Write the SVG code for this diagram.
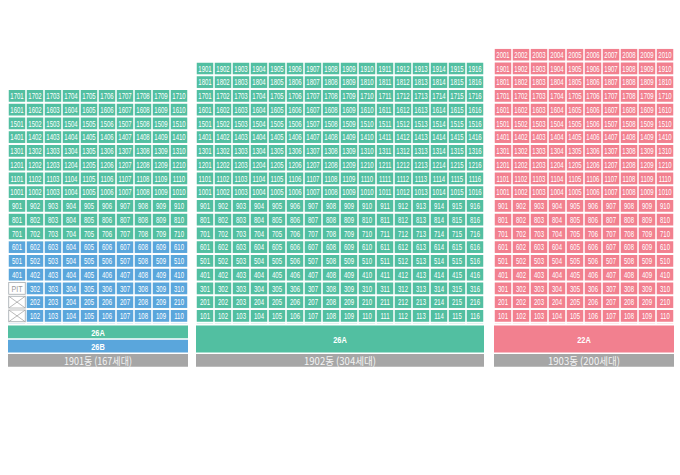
<svg xmlns="http://www.w3.org/2000/svg" width="680" height="475" viewBox="0 0 680 475">
<style>
.n{font-family:"Liberation Sans",Arial,sans-serif;font-size:9px;fill:#fff;text-anchor:middle}
.lg{font-family:"Liberation Sans",Arial,sans-serif;font-weight:bold;font-size:8.5px;fill:#fff;text-anchor:middle}
.dong{font-family:"Noto Sans CJK KR","Liberation Sans",sans-serif;font-size:10.5px;fill:#f4f4f4;text-anchor:middle}
.pit{font-family:"Liberation Sans",Arial,sans-serif;font-size:8.5px;fill:#9a9a9a;text-anchor:middle}
.blank{fill:#fff;stroke:#b0b0b0;stroke-width:0.8}
.xl{stroke:#a8a8a8;stroke-width:0.8}
</style>
<defs>
<pattern id="pG1" patternUnits="userSpaceOnUse" x="8" y="310" width="18" height="13.75"><rect x="0.75" y="0" width="16.5" height="11.75" fill="#52bfa1"/></pattern>
<pattern id="pB1" patternUnits="userSpaceOnUse" x="8" y="310" width="18" height="13.75"><rect x="0.75" y="0" width="16.5" height="11.75" fill="#5aa6dc"/></pattern>
<pattern id="pG2" patternUnits="userSpaceOnUse" x="196" y="310" width="18" height="13.75"><rect x="0.75" y="0" width="16.5" height="11.75" fill="#52bfa1"/></pattern>
<pattern id="pP3" patternUnits="userSpaceOnUse" x="494" y="310" width="18" height="13.75"><rect x="0.75" y="0" width="16.5" height="11.75" fill="#f2808f"/></pattern>
</defs>
<rect width="680" height="475" fill="#fff"/>

<g id="b1901">
<rect x="8" y="90" width="180" height="151.25" fill="url(#pG1)"/>
<rect x="8" y="241.25" width="180" height="82.5" fill="url(#pB1)"/>
<rect class="blank" x="8.75" y="282.5" width="16.5" height="11.75"/>
<text class="pit" x="17" y="291.6" textLength="11" lengthAdjust="spacingAndGlyphs">PIT</text>
<rect class="blank" x="8.75" y="296.25" width="16.5" height="11.75"/>
<line class="xl" x1="8.75" y1="296.25" x2="25.25" y2="308"/><line class="xl" x1="8.75" y1="308" x2="25.25" y2="296.25"/>
<rect class="blank" x="8.75" y="310" width="16.5" height="11.75"/>
<line class="xl" x1="8.75" y1="310" x2="25.25" y2="321.75"/><line class="xl" x1="8.75" y1="321.75" x2="25.25" y2="310"/>
<g class="n" transform="translate(17 0) scale(0.666667 1)">
<text y="99.2"><tspan x="0">1701</tspan><tspan x="27">1702</tspan><tspan x="54">1703</tspan><tspan x="81">1704</tspan><tspan x="108">1705</tspan><tspan x="135">1706</tspan><tspan x="162">1707</tspan><tspan x="189">1708</tspan><tspan x="216">1709</tspan><tspan x="243">1710</tspan></text>
<text y="112.95"><tspan x="0">1601</tspan><tspan x="27">1602</tspan><tspan x="54">1603</tspan><tspan x="81">1604</tspan><tspan x="108">1605</tspan><tspan x="135">1606</tspan><tspan x="162">1607</tspan><tspan x="189">1608</tspan><tspan x="216">1609</tspan><tspan x="243">1610</tspan></text>
<text y="126.7"><tspan x="0">1501</tspan><tspan x="27">1502</tspan><tspan x="54">1503</tspan><tspan x="81">1504</tspan><tspan x="108">1505</tspan><tspan x="135">1506</tspan><tspan x="162">1507</tspan><tspan x="189">1508</tspan><tspan x="216">1509</tspan><tspan x="243">1510</tspan></text>
<text y="140.45"><tspan x="0">1401</tspan><tspan x="27">1402</tspan><tspan x="54">1403</tspan><tspan x="81">1404</tspan><tspan x="108">1405</tspan><tspan x="135">1406</tspan><tspan x="162">1407</tspan><tspan x="189">1408</tspan><tspan x="216">1409</tspan><tspan x="243">1410</tspan></text>
<text y="154.2"><tspan x="0">1301</tspan><tspan x="27">1302</tspan><tspan x="54">1303</tspan><tspan x="81">1304</tspan><tspan x="108">1305</tspan><tspan x="135">1306</tspan><tspan x="162">1307</tspan><tspan x="189">1308</tspan><tspan x="216">1309</tspan><tspan x="243">1310</tspan></text>
<text y="167.95"><tspan x="0">1201</tspan><tspan x="27">1202</tspan><tspan x="54">1203</tspan><tspan x="81">1204</tspan><tspan x="108">1205</tspan><tspan x="135">1206</tspan><tspan x="162">1207</tspan><tspan x="189">1208</tspan><tspan x="216">1209</tspan><tspan x="243">1210</tspan></text>
<text y="181.7"><tspan x="0">1101</tspan><tspan x="27">1102</tspan><tspan x="54">1103</tspan><tspan x="81">1104</tspan><tspan x="108">1105</tspan><tspan x="135">1106</tspan><tspan x="162">1107</tspan><tspan x="189">1108</tspan><tspan x="216">1109</tspan><tspan x="243">1110</tspan></text>
<text y="195.45"><tspan x="0">1001</tspan><tspan x="27">1002</tspan><tspan x="54">1003</tspan><tspan x="81">1004</tspan><tspan x="108">1005</tspan><tspan x="135">1006</tspan><tspan x="162">1007</tspan><tspan x="189">1008</tspan><tspan x="216">1009</tspan><tspan x="243">1010</tspan></text>
<text y="209.2"><tspan x="0">901</tspan><tspan x="27">902</tspan><tspan x="54">903</tspan><tspan x="81">904</tspan><tspan x="108">905</tspan><tspan x="135">906</tspan><tspan x="162">907</tspan><tspan x="189">908</tspan><tspan x="216">909</tspan><tspan x="243">910</tspan></text>
<text y="222.95"><tspan x="0">801</tspan><tspan x="27">802</tspan><tspan x="54">803</tspan><tspan x="81">804</tspan><tspan x="108">805</tspan><tspan x="135">806</tspan><tspan x="162">807</tspan><tspan x="189">808</tspan><tspan x="216">809</tspan><tspan x="243">810</tspan></text>
<text y="236.7"><tspan x="0">701</tspan><tspan x="27">702</tspan><tspan x="54">703</tspan><tspan x="81">704</tspan><tspan x="108">705</tspan><tspan x="135">706</tspan><tspan x="162">707</tspan><tspan x="189">708</tspan><tspan x="216">709</tspan><tspan x="243">710</tspan></text>
<text y="250.45"><tspan x="0">601</tspan><tspan x="27">602</tspan><tspan x="54">603</tspan><tspan x="81">604</tspan><tspan x="108">605</tspan><tspan x="135">606</tspan><tspan x="162">607</tspan><tspan x="189">608</tspan><tspan x="216">609</tspan><tspan x="243">610</tspan></text>
<text y="264.2"><tspan x="0">501</tspan><tspan x="27">502</tspan><tspan x="54">503</tspan><tspan x="81">504</tspan><tspan x="108">505</tspan><tspan x="135">506</tspan><tspan x="162">507</tspan><tspan x="189">508</tspan><tspan x="216">509</tspan><tspan x="243">510</tspan></text>
<text y="277.95"><tspan x="0">401</tspan><tspan x="27">402</tspan><tspan x="54">403</tspan><tspan x="81">404</tspan><tspan x="108">405</tspan><tspan x="135">406</tspan><tspan x="162">407</tspan><tspan x="189">408</tspan><tspan x="216">409</tspan><tspan x="243">410</tspan></text>
<text y="291.7"><tspan x="27">302</tspan><tspan x="54">303</tspan><tspan x="81">304</tspan><tspan x="108">305</tspan><tspan x="135">306</tspan><tspan x="162">307</tspan><tspan x="189">308</tspan><tspan x="216">309</tspan><tspan x="243">310</tspan></text>
<text y="305.45"><tspan x="27">202</tspan><tspan x="54">203</tspan><tspan x="81">204</tspan><tspan x="108">205</tspan><tspan x="135">206</tspan><tspan x="162">207</tspan><tspan x="189">208</tspan><tspan x="216">209</tspan><tspan x="243">210</tspan></text>
<text y="319.2"><tspan x="27">102</tspan><tspan x="54">103</tspan><tspan x="81">104</tspan><tspan x="108">105</tspan><tspan x="135">106</tspan><tspan x="162">107</tspan><tspan x="189">108</tspan><tspan x="216">109</tspan><tspan x="243">110</tspan></text>
</g>
</g>

<g id="legend1901">
<rect x="8" y="325.5" width="180" height="12.75" fill="#52bfa1"/>
<text class="lg" x="98" y="335.8" textLength="13.5" lengthAdjust="spacingAndGlyphs">26A</text>
<rect x="8" y="339.75" width="180" height="12.75" fill="#5aa6dc"/>
<text class="lg" x="98" y="349.6" textLength="13.5" lengthAdjust="spacingAndGlyphs">26B</text>
<rect x="8" y="354" width="180" height="12.75" fill="#a6a6a6"/>
<text class="dong" x="98" y="364.8" textLength="68" lengthAdjust="spacingAndGlyphs">1901동 (167세대)</text>
</g>

<g id="b1902">
<rect x="196" y="62.5" width="288" height="261.25" fill="url(#pG2)"/>
<g class="n" transform="translate(205 0) scale(0.666667 1)">
<text y="71.7"><tspan x="0">1901</tspan><tspan x="27">1902</tspan><tspan x="54">1903</tspan><tspan x="81">1904</tspan><tspan x="108">1905</tspan><tspan x="135">1906</tspan><tspan x="162">1907</tspan><tspan x="189">1908</tspan><tspan x="216">1909</tspan><tspan x="243">1910</tspan><tspan x="270">1911</tspan><tspan x="297">1912</tspan><tspan x="324">1913</tspan><tspan x="351">1914</tspan><tspan x="378">1915</tspan><tspan x="405">1916</tspan></text>
<text y="85.45"><tspan x="0">1801</tspan><tspan x="27">1802</tspan><tspan x="54">1803</tspan><tspan x="81">1804</tspan><tspan x="108">1805</tspan><tspan x="135">1806</tspan><tspan x="162">1807</tspan><tspan x="189">1808</tspan><tspan x="216">1809</tspan><tspan x="243">1810</tspan><tspan x="270">1811</tspan><tspan x="297">1812</tspan><tspan x="324">1813</tspan><tspan x="351">1814</tspan><tspan x="378">1815</tspan><tspan x="405">1816</tspan></text>
<text y="99.2"><tspan x="0">1701</tspan><tspan x="27">1702</tspan><tspan x="54">1703</tspan><tspan x="81">1704</tspan><tspan x="108">1705</tspan><tspan x="135">1706</tspan><tspan x="162">1707</tspan><tspan x="189">1708</tspan><tspan x="216">1709</tspan><tspan x="243">1710</tspan><tspan x="270">1711</tspan><tspan x="297">1712</tspan><tspan x="324">1713</tspan><tspan x="351">1714</tspan><tspan x="378">1715</tspan><tspan x="405">1716</tspan></text>
<text y="112.95"><tspan x="0">1601</tspan><tspan x="27">1602</tspan><tspan x="54">1603</tspan><tspan x="81">1604</tspan><tspan x="108">1605</tspan><tspan x="135">1606</tspan><tspan x="162">1607</tspan><tspan x="189">1608</tspan><tspan x="216">1609</tspan><tspan x="243">1610</tspan><tspan x="270">1611</tspan><tspan x="297">1612</tspan><tspan x="324">1613</tspan><tspan x="351">1614</tspan><tspan x="378">1615</tspan><tspan x="405">1616</tspan></text>
<text y="126.7"><tspan x="0">1501</tspan><tspan x="27">1502</tspan><tspan x="54">1503</tspan><tspan x="81">1504</tspan><tspan x="108">1505</tspan><tspan x="135">1506</tspan><tspan x="162">1507</tspan><tspan x="189">1508</tspan><tspan x="216">1509</tspan><tspan x="243">1510</tspan><tspan x="270">1511</tspan><tspan x="297">1512</tspan><tspan x="324">1513</tspan><tspan x="351">1514</tspan><tspan x="378">1515</tspan><tspan x="405">1516</tspan></text>
<text y="140.45"><tspan x="0">1401</tspan><tspan x="27">1402</tspan><tspan x="54">1403</tspan><tspan x="81">1404</tspan><tspan x="108">1405</tspan><tspan x="135">1406</tspan><tspan x="162">1407</tspan><tspan x="189">1408</tspan><tspan x="216">1409</tspan><tspan x="243">1410</tspan><tspan x="270">1411</tspan><tspan x="297">1412</tspan><tspan x="324">1413</tspan><tspan x="351">1414</tspan><tspan x="378">1415</tspan><tspan x="405">1416</tspan></text>
<text y="154.2"><tspan x="0">1301</tspan><tspan x="27">1302</tspan><tspan x="54">1303</tspan><tspan x="81">1304</tspan><tspan x="108">1305</tspan><tspan x="135">1306</tspan><tspan x="162">1307</tspan><tspan x="189">1308</tspan><tspan x="216">1309</tspan><tspan x="243">1310</tspan><tspan x="270">1311</tspan><tspan x="297">1312</tspan><tspan x="324">1313</tspan><tspan x="351">1314</tspan><tspan x="378">1315</tspan><tspan x="405">1316</tspan></text>
<text y="167.95"><tspan x="0">1201</tspan><tspan x="27">1202</tspan><tspan x="54">1203</tspan><tspan x="81">1204</tspan><tspan x="108">1205</tspan><tspan x="135">1206</tspan><tspan x="162">1207</tspan><tspan x="189">1208</tspan><tspan x="216">1209</tspan><tspan x="243">1210</tspan><tspan x="270">1211</tspan><tspan x="297">1212</tspan><tspan x="324">1213</tspan><tspan x="351">1214</tspan><tspan x="378">1215</tspan><tspan x="405">1216</tspan></text>
<text y="181.7"><tspan x="0">1101</tspan><tspan x="27">1102</tspan><tspan x="54">1103</tspan><tspan x="81">1104</tspan><tspan x="108">1105</tspan><tspan x="135">1106</tspan><tspan x="162">1107</tspan><tspan x="189">1108</tspan><tspan x="216">1109</tspan><tspan x="243">1110</tspan><tspan x="270">1111</tspan><tspan x="297">1112</tspan><tspan x="324">1113</tspan><tspan x="351">1114</tspan><tspan x="378">1115</tspan><tspan x="405">1116</tspan></text>
<text y="195.45"><tspan x="0">1001</tspan><tspan x="27">1002</tspan><tspan x="54">1003</tspan><tspan x="81">1004</tspan><tspan x="108">1005</tspan><tspan x="135">1006</tspan><tspan x="162">1007</tspan><tspan x="189">1008</tspan><tspan x="216">1009</tspan><tspan x="243">1010</tspan><tspan x="270">1011</tspan><tspan x="297">1012</tspan><tspan x="324">1013</tspan><tspan x="351">1014</tspan><tspan x="378">1015</tspan><tspan x="405">1016</tspan></text>
<text y="209.2"><tspan x="0">901</tspan><tspan x="27">902</tspan><tspan x="54">903</tspan><tspan x="81">904</tspan><tspan x="108">905</tspan><tspan x="135">906</tspan><tspan x="162">907</tspan><tspan x="189">908</tspan><tspan x="216">909</tspan><tspan x="243">910</tspan><tspan x="270">911</tspan><tspan x="297">912</tspan><tspan x="324">913</tspan><tspan x="351">914</tspan><tspan x="378">915</tspan><tspan x="405">916</tspan></text>
<text y="222.95"><tspan x="0">801</tspan><tspan x="27">802</tspan><tspan x="54">803</tspan><tspan x="81">804</tspan><tspan x="108">805</tspan><tspan x="135">806</tspan><tspan x="162">807</tspan><tspan x="189">808</tspan><tspan x="216">809</tspan><tspan x="243">810</tspan><tspan x="270">811</tspan><tspan x="297">812</tspan><tspan x="324">813</tspan><tspan x="351">814</tspan><tspan x="378">815</tspan><tspan x="405">816</tspan></text>
<text y="236.7"><tspan x="0">701</tspan><tspan x="27">702</tspan><tspan x="54">703</tspan><tspan x="81">704</tspan><tspan x="108">705</tspan><tspan x="135">706</tspan><tspan x="162">707</tspan><tspan x="189">708</tspan><tspan x="216">709</tspan><tspan x="243">710</tspan><tspan x="270">711</tspan><tspan x="297">712</tspan><tspan x="324">713</tspan><tspan x="351">714</tspan><tspan x="378">715</tspan><tspan x="405">716</tspan></text>
<text y="250.45"><tspan x="0">601</tspan><tspan x="27">602</tspan><tspan x="54">603</tspan><tspan x="81">604</tspan><tspan x="108">605</tspan><tspan x="135">606</tspan><tspan x="162">607</tspan><tspan x="189">608</tspan><tspan x="216">609</tspan><tspan x="243">610</tspan><tspan x="270">611</tspan><tspan x="297">612</tspan><tspan x="324">613</tspan><tspan x="351">614</tspan><tspan x="378">615</tspan><tspan x="405">616</tspan></text>
<text y="264.2"><tspan x="0">501</tspan><tspan x="27">502</tspan><tspan x="54">503</tspan><tspan x="81">504</tspan><tspan x="108">505</tspan><tspan x="135">506</tspan><tspan x="162">507</tspan><tspan x="189">508</tspan><tspan x="216">509</tspan><tspan x="243">510</tspan><tspan x="270">511</tspan><tspan x="297">512</tspan><tspan x="324">513</tspan><tspan x="351">514</tspan><tspan x="378">515</tspan><tspan x="405">516</tspan></text>
<text y="277.95"><tspan x="0">401</tspan><tspan x="27">402</tspan><tspan x="54">403</tspan><tspan x="81">404</tspan><tspan x="108">405</tspan><tspan x="135">406</tspan><tspan x="162">407</tspan><tspan x="189">408</tspan><tspan x="216">409</tspan><tspan x="243">410</tspan><tspan x="270">411</tspan><tspan x="297">412</tspan><tspan x="324">413</tspan><tspan x="351">414</tspan><tspan x="378">415</tspan><tspan x="405">416</tspan></text>
<text y="291.7"><tspan x="0">301</tspan><tspan x="27">302</tspan><tspan x="54">303</tspan><tspan x="81">304</tspan><tspan x="108">305</tspan><tspan x="135">306</tspan><tspan x="162">307</tspan><tspan x="189">308</tspan><tspan x="216">309</tspan><tspan x="243">310</tspan><tspan x="270">311</tspan><tspan x="297">312</tspan><tspan x="324">313</tspan><tspan x="351">314</tspan><tspan x="378">315</tspan><tspan x="405">316</tspan></text>
<text y="305.45"><tspan x="0">201</tspan><tspan x="27">202</tspan><tspan x="54">203</tspan><tspan x="81">204</tspan><tspan x="108">205</tspan><tspan x="135">206</tspan><tspan x="162">207</tspan><tspan x="189">208</tspan><tspan x="216">209</tspan><tspan x="243">210</tspan><tspan x="270">211</tspan><tspan x="297">212</tspan><tspan x="324">213</tspan><tspan x="351">214</tspan><tspan x="378">215</tspan><tspan x="405">216</tspan></text>
<text y="319.2"><tspan x="0">101</tspan><tspan x="27">102</tspan><tspan x="54">103</tspan><tspan x="81">104</tspan><tspan x="108">105</tspan><tspan x="135">106</tspan><tspan x="162">107</tspan><tspan x="189">108</tspan><tspan x="216">109</tspan><tspan x="243">110</tspan><tspan x="270">111</tspan><tspan x="297">112</tspan><tspan x="324">113</tspan><tspan x="351">114</tspan><tspan x="378">115</tspan><tspan x="405">116</tspan></text>
</g>
</g>

<g id="legend1902">
<rect x="196" y="325.5" width="288" height="27" fill="#52bfa1"/>
<text class="lg" x="340" y="342.8" textLength="13.5" lengthAdjust="spacingAndGlyphs">26A</text>
<rect x="196" y="354" width="288" height="12.75" fill="#a6a6a6"/>
<text class="dong" x="340" y="364.8" textLength="72" lengthAdjust="spacingAndGlyphs">1902동 (304세대)</text>
</g>

<g id="b1903">
<rect x="494" y="48.75" width="180" height="275" fill="url(#pP3)"/>
<g class="n" transform="translate(503 0) scale(0.666667 1)">
<text y="57.95"><tspan x="0">2001</tspan><tspan x="27">2002</tspan><tspan x="54">2003</tspan><tspan x="81">2004</tspan><tspan x="108">2005</tspan><tspan x="135">2006</tspan><tspan x="162">2007</tspan><tspan x="189">2008</tspan><tspan x="216">2009</tspan><tspan x="243">2010</tspan></text>
<text y="71.7"><tspan x="0">1901</tspan><tspan x="27">1902</tspan><tspan x="54">1903</tspan><tspan x="81">1904</tspan><tspan x="108">1905</tspan><tspan x="135">1906</tspan><tspan x="162">1907</tspan><tspan x="189">1908</tspan><tspan x="216">1909</tspan><tspan x="243">1910</tspan></text>
<text y="85.45"><tspan x="0">1801</tspan><tspan x="27">1802</tspan><tspan x="54">1803</tspan><tspan x="81">1804</tspan><tspan x="108">1805</tspan><tspan x="135">1806</tspan><tspan x="162">1807</tspan><tspan x="189">1808</tspan><tspan x="216">1809</tspan><tspan x="243">1810</tspan></text>
<text y="99.2"><tspan x="0">1701</tspan><tspan x="27">1702</tspan><tspan x="54">1703</tspan><tspan x="81">1704</tspan><tspan x="108">1705</tspan><tspan x="135">1706</tspan><tspan x="162">1707</tspan><tspan x="189">1708</tspan><tspan x="216">1709</tspan><tspan x="243">1710</tspan></text>
<text y="112.95"><tspan x="0">1601</tspan><tspan x="27">1602</tspan><tspan x="54">1603</tspan><tspan x="81">1604</tspan><tspan x="108">1605</tspan><tspan x="135">1606</tspan><tspan x="162">1607</tspan><tspan x="189">1608</tspan><tspan x="216">1609</tspan><tspan x="243">1610</tspan></text>
<text y="126.7"><tspan x="0">1501</tspan><tspan x="27">1502</tspan><tspan x="54">1503</tspan><tspan x="81">1504</tspan><tspan x="108">1505</tspan><tspan x="135">1506</tspan><tspan x="162">1507</tspan><tspan x="189">1508</tspan><tspan x="216">1509</tspan><tspan x="243">1510</tspan></text>
<text y="140.45"><tspan x="0">1401</tspan><tspan x="27">1402</tspan><tspan x="54">1403</tspan><tspan x="81">1404</tspan><tspan x="108">1405</tspan><tspan x="135">1406</tspan><tspan x="162">1407</tspan><tspan x="189">1408</tspan><tspan x="216">1409</tspan><tspan x="243">1410</tspan></text>
<text y="154.2"><tspan x="0">1301</tspan><tspan x="27">1302</tspan><tspan x="54">1303</tspan><tspan x="81">1304</tspan><tspan x="108">1305</tspan><tspan x="135">1306</tspan><tspan x="162">1307</tspan><tspan x="189">1308</tspan><tspan x="216">1309</tspan><tspan x="243">1310</tspan></text>
<text y="167.95"><tspan x="0">1201</tspan><tspan x="27">1202</tspan><tspan x="54">1203</tspan><tspan x="81">1204</tspan><tspan x="108">1205</tspan><tspan x="135">1206</tspan><tspan x="162">1207</tspan><tspan x="189">1208</tspan><tspan x="216">1209</tspan><tspan x="243">1210</tspan></text>
<text y="181.7"><tspan x="0">1101</tspan><tspan x="27">1102</tspan><tspan x="54">1103</tspan><tspan x="81">1104</tspan><tspan x="108">1105</tspan><tspan x="135">1106</tspan><tspan x="162">1107</tspan><tspan x="189">1108</tspan><tspan x="216">1109</tspan><tspan x="243">1110</tspan></text>
<text y="195.45"><tspan x="0">1001</tspan><tspan x="27">1002</tspan><tspan x="54">1003</tspan><tspan x="81">1004</tspan><tspan x="108">1005</tspan><tspan x="135">1006</tspan><tspan x="162">1007</tspan><tspan x="189">1008</tspan><tspan x="216">1009</tspan><tspan x="243">1010</tspan></text>
<text y="209.2"><tspan x="0">901</tspan><tspan x="27">902</tspan><tspan x="54">903</tspan><tspan x="81">904</tspan><tspan x="108">905</tspan><tspan x="135">906</tspan><tspan x="162">907</tspan><tspan x="189">908</tspan><tspan x="216">909</tspan><tspan x="243">910</tspan></text>
<text y="222.95"><tspan x="0">801</tspan><tspan x="27">802</tspan><tspan x="54">803</tspan><tspan x="81">804</tspan><tspan x="108">805</tspan><tspan x="135">806</tspan><tspan x="162">807</tspan><tspan x="189">808</tspan><tspan x="216">809</tspan><tspan x="243">810</tspan></text>
<text y="236.7"><tspan x="0">701</tspan><tspan x="27">702</tspan><tspan x="54">703</tspan><tspan x="81">704</tspan><tspan x="108">705</tspan><tspan x="135">706</tspan><tspan x="162">707</tspan><tspan x="189">708</tspan><tspan x="216">709</tspan><tspan x="243">710</tspan></text>
<text y="250.45"><tspan x="0">601</tspan><tspan x="27">602</tspan><tspan x="54">603</tspan><tspan x="81">604</tspan><tspan x="108">605</tspan><tspan x="135">606</tspan><tspan x="162">607</tspan><tspan x="189">608</tspan><tspan x="216">609</tspan><tspan x="243">610</tspan></text>
<text y="264.2"><tspan x="0">501</tspan><tspan x="27">502</tspan><tspan x="54">503</tspan><tspan x="81">504</tspan><tspan x="108">505</tspan><tspan x="135">506</tspan><tspan x="162">507</tspan><tspan x="189">508</tspan><tspan x="216">509</tspan><tspan x="243">510</tspan></text>
<text y="277.95"><tspan x="0">401</tspan><tspan x="27">402</tspan><tspan x="54">403</tspan><tspan x="81">404</tspan><tspan x="108">405</tspan><tspan x="135">406</tspan><tspan x="162">407</tspan><tspan x="189">408</tspan><tspan x="216">409</tspan><tspan x="243">410</tspan></text>
<text y="291.7"><tspan x="0">301</tspan><tspan x="27">302</tspan><tspan x="54">303</tspan><tspan x="81">304</tspan><tspan x="108">305</tspan><tspan x="135">306</tspan><tspan x="162">307</tspan><tspan x="189">308</tspan><tspan x="216">309</tspan><tspan x="243">310</tspan></text>
<text y="305.45"><tspan x="0">201</tspan><tspan x="27">202</tspan><tspan x="54">203</tspan><tspan x="81">204</tspan><tspan x="108">205</tspan><tspan x="135">206</tspan><tspan x="162">207</tspan><tspan x="189">208</tspan><tspan x="216">209</tspan><tspan x="243">210</tspan></text>
<text y="319.2"><tspan x="0">101</tspan><tspan x="27">102</tspan><tspan x="54">103</tspan><tspan x="81">104</tspan><tspan x="108">105</tspan><tspan x="135">106</tspan><tspan x="162">107</tspan><tspan x="189">108</tspan><tspan x="216">109</tspan><tspan x="243">110</tspan></text>
</g>
</g>

<g id="legend1903">
<rect x="494" y="325.5" width="180" height="27" fill="#f2808f"/>
<text class="lg" x="584" y="342.8" textLength="13.5" lengthAdjust="spacingAndGlyphs">22A</text>
<rect x="494" y="354" width="180" height="12.75" fill="#a6a6a6"/>
<text class="dong" x="584" y="364.8" textLength="72" lengthAdjust="spacingAndGlyphs">1903동 (200세대)</text>
</g>
</svg>
